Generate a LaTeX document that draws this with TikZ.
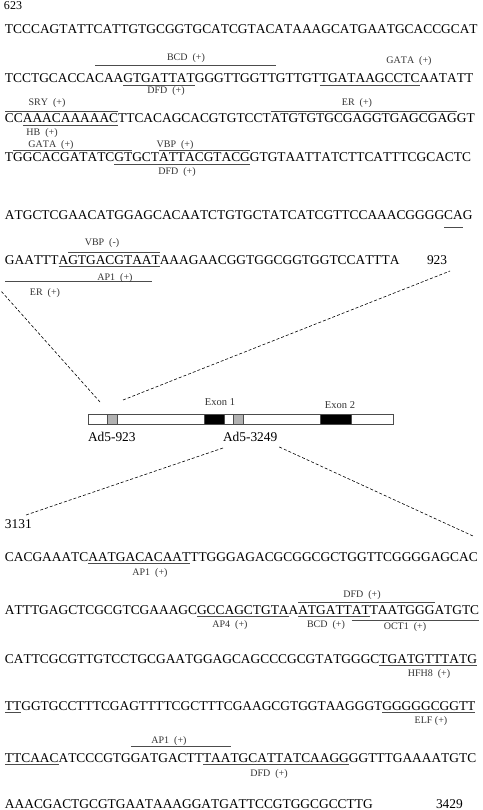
\documentclass[tikz,border=0pt]{standalone}
\usepackage{fontspec}
\setmainfont{Liberation Serif}[Kerning=Off]

\newcommand\seqfont{\fontsize{13.4}{16}\selectfont}
\newcommand\lblfont{\fontsize{10}{12}\selectfont}
\newcommand\exfont{\fontsize{10.5}{12}\selectfont}

\begin{document}
\begin{tikzpicture}[x=1pt, y=-1pt,
  seq/.style={anchor=base west, inner sep=0pt, outer sep=0pt, font=\seqfont},
  lbl/.style={anchor=base, inner sep=0pt, font=\lblfont, text=black!80},
  site/.style={draw=black!70, line width=0.8pt},
  zoomline/.style={draw=black, dash pattern=on 3pt off 2pt, line width=0.6pt},
  box/.style={draw=black!70, line width=0.6pt, minimum height=10pt, inner sep=0pt, outer sep=0pt, anchor=west}]
\useasboundingbox (0,0) rectangle (482,810);

\node[seq, font=\fontsize{12}{14}\selectfont] (n623) at (4,10) {623};
\node[seq] (l1) at (5,34) {TCCCAGTATTCATTGTGCGGTGCATCGTACATAAAGCATGAATGCACCGCAT};

\node[seq] (a1) at (5,83) {TCCTGCACCA};
\node[seq] (a2) at (a1.base east) {CAA};
\node[seq] (a3) at (a2.base east) {GTGATTAT};
\node[seq] (a4) at (a3.base east) {GGGTTGGTT};
\node[seq] (a5) at (a4.base east) {GTTGT};
\node[seq] (a6) at (a5.base east) {TGATAAGCCTC};
\node[seq] (a7) at (a6.base east) {AATATT};
\draw[site] ([yshift=18pt]a2.base west) -- ([yshift=18pt]a4.base east);
\draw[site] ([yshift=-2pt]a3.base west) -- ([yshift=-2pt]a3.base east);
\draw[site] ([yshift=-2pt]a6.base west) -- ([yshift=-2pt]a6.base east);
\node[lbl] (bcd1) at (186,61) {BCD~~(+)};
\node[lbl] (dfd1) at (166,94) {DFD~~(+)};
\node[lbl] (gata1) at (409,64) {GATA~~(+)};

\node[seq] (b1) at (5,123) {CC};
\node[seq] (b2) at (b1.base east) {AAACAAAAAC};
\node[seq] (b3) at (b2.base east) {TTCACAGCACGTGTCCT};
\node[seq] (b4) at (b3.base east) {ATGTGTGCGAGGTGAGCGAG};
\node[seq] (b5) at (b4.base east) {GT};
\draw[site] ([yshift=11.5pt]b1.base west) -- ([yshift=11.5pt]b2.base east);
\draw[site] ([yshift=11.5pt]b4.base west) -- ([yshift=11.5pt]b4.base east);
\draw[site] ([yshift=-2pt]b2.base west) -- ([yshift=-2pt]b2.base east);
\node[lbl] (sry) at (47,105.5) {SRY~~(+)};
\node[lbl] (er1) at (357,105.5) {ER~~(+)};
\node[lbl] (hb) at (42,136) {HB~~(+)};

\node[seq] (c1) at (5,162) {T};
\node[seq] (c2) at (c1.base east) {GGCACGATATC};
\node[seq] (c3) at (c2.base east) {GT};
\node[seq] (c4) at (c3.base east) {GCT};
\node[seq] (c5) at (c4.base east) {ATTACGTACG};
\node[seq] (c6) at (c5.base east) {GTGTAATTATCTTCATTTCGCACTC};
\draw[site] ([yshift=12pt]c2.base west) -- ([yshift=12pt]c3.base east);
\draw[site] ([yshift=12pt]c5.base west) -- ([yshift=12pt]c5.base east);
\draw[site] ([yshift=-2pt]c3.base west) -- ([yshift=-2pt]c5.base east);
\node[lbl] (gata2) at (51,147.5) {GATA~~(+)};
\node[lbl] (vbp1) at (175,147.5) {VBP~~(+)};
\node[lbl] (dfd2) at (177,175) {DFD~~(+)};

\node[seq] (d1) at (5,220) {ATGCTCGAACATGGAGCACAATCTGTGCTATCATCGTTCCAAACGGGG};
\node[seq] (d2) at (d1.base east) {CA};
\node[seq] (d3) at (d2.base east) {G};
\draw[site] ([yshift=-7pt]d2.base west) -- ([yshift=-7pt]d2.base east);

\node[seq] (e1) at (5,264) {GAATTT};
\node[seq] (e2) at (e1.base east) {A};
\node[seq] (e3) at (e2.base east) {GTGACGTAA};
\node[seq] (e4) at (e3.base east) {T};
\node[seq] (e5) at (e4.base east) {AAAGAACGGTGGCGGTGGTCCATTTA};
\node[seq] (n923) at (427,264) {923};
\draw[site] ([yshift=12pt]e3.base west) -- ([yshift=12pt]e4.base east);
\draw[site] ([yshift=-2pt]e2.base west) -- ([yshift=-2pt]e4.base east);
\draw[site] ([yshift=-17pt]e1.base west) -- ([yshift=-17pt]e3.base east);
\node[lbl] (vbp2) at (102,245) {VBP~~(-)};
\node[lbl] (ap1a) at (115,280) {AP1~~(+)};
\node[lbl] (er2) at (45,295) {ER~~(+)};

\node[box, minimum width=305pt] (bar) at (88,419) {};
\node[box, fill=black!30, minimum width=10pt] (p1) at (107,419) {};
\node[box, fill=black, minimum width=20pt] (x1) at (204,419) {};
\node[box, fill=black!30, minimum width=10pt] (p2) at (233,419) {};
\node[box, fill=black, minimum width=31pt] (x2) at (320,419) {};
\node[lbl, font=\exfont] (ex1) at (220,405) {Exon 1};
\node[lbl, font=\exfont] (ex2) at (340,408) {Exon 2};
\node[seq] (ad923) at (88,441) {Ad5-923};
\node[seq] (ad3249) at (223,441) {Ad5-3249};

\coordinate (t1) at (1,291);
\coordinate (t2) at (450,271);
\coordinate (u1) at (26,515);
\coordinate (u2) at (473,536);
\draw[zoomline] ([xshift=-7pt,yshift=12pt]p1.north west) -- (t1);
\draw[zoomline] ([xshift=6pt,yshift=14pt]p1.north east) -- (t2);
\draw[zoomline] ([yshift=-7pt]ad3249.base west) -- (u1);
\draw[zoomline] ([xshift=2pt,yshift=-6pt]ad3249.base east) -- (u2);

\node[seq] (n3131) at (5,528) {3131};

\node[seq] (f1) at (5,561) {CACGAAATC};
\node[seq] (f2) at (f1.base east) {AATGACACAAT};
\node[seq] (f3) at (f2.base east) {TTGGGAGACGCGGCGCTGGTTCGGGGAGCAC};
\draw[site] ([yshift=-2pt]f2.base west) -- ([yshift=-2pt]f2.base east);
\node[lbl] (ap1b) at (150,575) {AP1~~(+)};

\node[seq] (g1) at (5,614) {ATTTGAGCTCGCGTCGAAAGC};
\node[seq] (g2) at (g1.base east) {GCCAGCTGTA};
\node[seq] (g3) at (g2.base east) {A};
\node[seq] (g4) at (g3.base east) {ATGATT};
\node[seq] (g5) at (g4.base east) {AT};
\node[seq] (g6) at (g5.base east) {TAATGGG};
\node[seq] (g7) at (g6.base east) {ATGTC};
\draw[site] ([yshift=-2pt]g2.base west) -- ([yshift=-2pt]g2.base east);
\draw[site] ([yshift=-2pt]g4.base west) -- ([yshift=-2pt]g5.base east);
\draw[site] ([yshift=12pt]g4.base west) -- ([yshift=12pt]g6.base east);
\draw[site] ([yshift=-6pt]g5.base west) -- ([yshift=-6pt]g7.base east);
\node[lbl] (ap4) at (230,627) {AP4~~(+)};
\node[lbl] (bcd2) at (326,627) {BCD~~(+)};
\node[lbl] (dfd3) at (362,597) {DFD~~(+)};
\node[lbl] (oct1) at (405,629) {OCT1~~(+)};

\node[seq] (h1) at (5,663) {CATTCGCGTTGTCCTGCGAATGGAGCAGCCCGCGTATGGGC};
\node[seq] (h2) at (h1.base east) {TGATGTTTATG};
\draw[site] ([yshift=-2pt]h2.base west) -- ([yshift=-2pt]h2.base east);
\node[lbl] (hfh8) at (429,676) {HFH8~~(+)};

\node[seq] (i1) at (5,710) {TT};
\node[seq] (i2) at (i1.base east) {GGTGCCTTTCGAGTTTTCGCTTTCGAAGCGTGGTAAGGGT};
\node[seq] (i3) at (i2.base east) {GGGGGCGGTT};
\draw[site] ([yshift=-2pt]i1.base west) -- ([yshift=-2pt]i1.base east);
\draw[site] ([yshift=-2pt]i3.base west) -- ([yshift=-2pt]i3.base east);
\node[lbl] (elf) at (431,723) {ELF (+)};

\node[seq] (j1) at (5,762) {TTCAAC};
\node[seq] (j2) at (j1.base east) {ATCCCGTG};
\node[seq] (j3) at (j2.base east) {GATGACTT};
\node[seq] (j4) at (j3.base east) {TAA};
\node[seq] (j5) at (j4.base east) {TGCATTATCAAGG};
\node[seq] (j6) at (j5.base east) {GGTTTGAAAATGTC};
\draw[site] ([yshift=-2pt]j1.base west) -- ([yshift=-2pt]j1.base east);
\draw[site] ([yshift=16pt]j3.base west) -- ([yshift=16pt]j4.base east);
\draw[site] ([yshift=-2pt]j4.base west) -- ([yshift=-2pt]j5.base east);
\node[lbl] (ap1c) at (169,743) {AP1~~(+)};
\node[lbl] (dfd4) at (269,776) {DFD~~(+)};

\node[seq] (k1) at (5,808) {AAACGACTGCGTGAATAAAGGATGATTCCGTGGCGCCTTG};
\node[seq] (n3429) at (436,808) {3429};
\end{tikzpicture}
\end{document}
